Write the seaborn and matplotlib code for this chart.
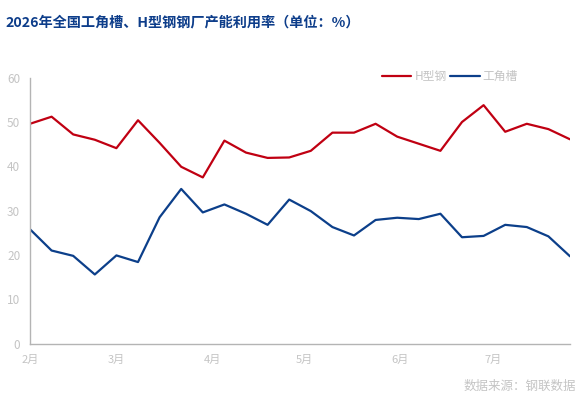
import matplotlib
matplotlib.use('Agg')
import matplotlib.pyplot as plt
from matplotlib.lines import Line2D
import seaborn as sns
import pandas as pd

# Weekly dates (x axis)
dates = ['2026-02-01', '2026-02-08', '2026-02-15', '2026-02-22',
         '2026-03-01', '2026-03-08', '2026-03-15', '2026-03-22', '2026-03-29',
         '2026-04-05', '2026-04-12', '2026-04-19', '2026-04-26',
         '2026-05-03', '2026-05-10', '2026-05-17', '2026-05-24', '2026-05-31',
         '2026-06-07', '2026-06-14', '2026-06-21', '2026-06-28',
         '2026-07-05', '2026-07-12', '2026-07-19', '2026-07-26']

# H型钢 capacity utilisation (%)
h_beam = [49.6, 51.2, 47.2, 46.0, 44.1, 50.4, 45.3, 39.9, 37.5, 45.8, 43.1, 41.9, 42.0,
          43.5, 47.6, 47.6, 49.6, 46.7, 45.1, 43.5, 50.0, 53.8, 47.8, 49.6, 48.4, 46.1]

# 工角槽 capacity utilisation (%)
angle_channel = [25.8, 21.0, 19.8, 15.6, 19.9, 18.4, 28.5, 34.9, 29.6, 31.4, 29.3, 26.8, 32.5,
                 29.9, 26.3, 24.4, 27.9, 28.4, 28.1, 29.3, 24.0, 24.3, 26.8, 26.3, 24.2, 19.7]

series_names = ['H型钢', '工角槽']
month_ticks = ['2026-02-01', '2026-03-01', '2026-04-01', '2026-05-01', '2026-06-01', '2026-07-01']
month_labels = ['2月', '3月', '4月', '5月', '6月', '7月']
y_ticks = [0, 10, 20, 30, 40, 50, 60]

red = '#c00012'
blue = '#0c3f8a'
grey_axis = '#b4b4b4'
grey_text = '#c4c4c4'

sns.set_style('white')
plt.rcParams['font.family'] = ['Noto Sans CJK SC', 'DejaVu Sans']

df = pd.DataFrame({
    'date': pd.to_datetime(dates * 2),
    'value': h_beam + angle_channel,
    'series': [series_names[0]] * len(dates) + [series_names[1]] * len(dates),
})

fig = plt.figure(figsize=(5.86, 4.04), dpi=100)
ax = fig.add_axes([30 / 586, 60.4 / 404, 540 / 586, 265.9 / 404])

sns.lineplot(data=df, x='date', y='value', hue='series',
             palette={series_names[0]: red, series_names[1]: blue},
             linewidth=1.6, ax=ax, legend=False)

ax.set_xlim(pd.Timestamp(dates[0]), pd.Timestamp(dates[-1]))
ax.set_ylim(0, 60)
ax.set_yticks(y_ticks)
ax.set_xticks(pd.to_datetime(month_ticks))
ax.set_xticklabels(month_labels)
ax.set_xlabel('')
ax.set_ylabel('')

for side in ['top', 'right']:
    ax.spines[side].set_visible(False)
for side in ['left', 'bottom']:
    ax.spines[side].set_color(grey_axis)
    ax.spines[side].set_linewidth(1)

ax.tick_params(axis='both', direction='out', length=4, width=0.8, color=grey_axis,
               labelcolor=grey_text, labelsize=8, pad=3)
ax.tick_params(axis='y', labelsize=8.5)
ax.tick_params(axis='x', pad=4)
ax.grid(False)

# Legend, top right
handles = [Line2D([0], [0], color=red, lw=1.6), Line2D([0], [0], color=blue, lw=1.6)]
leg = ax.legend(handles, series_names, loc='lower right', bbox_to_anchor=(0.912, 0.963),
                ncol=2, frameon=False, handlelength=2.5, handletextpad=0.25,
                columnspacing=0.3, fontsize=8.5, borderaxespad=0)
for t in leg.get_texts():
    t.set_color(grey_text)

fig.text(5 / 586, 1 - 22 / 404, '2026年全国工角槽、H型钢钢厂产能利用率（单位：%）',
         fontsize=10.2, fontweight='bold', color='#0d3d8a', va='center', ha='left')
fig.text(576 / 586, 1 - 386 / 404, '数据来源：钢联数据', fontsize=9, color=grey_text,
         va='center', ha='right')

fig.savefig('out.png', dpi=100)
